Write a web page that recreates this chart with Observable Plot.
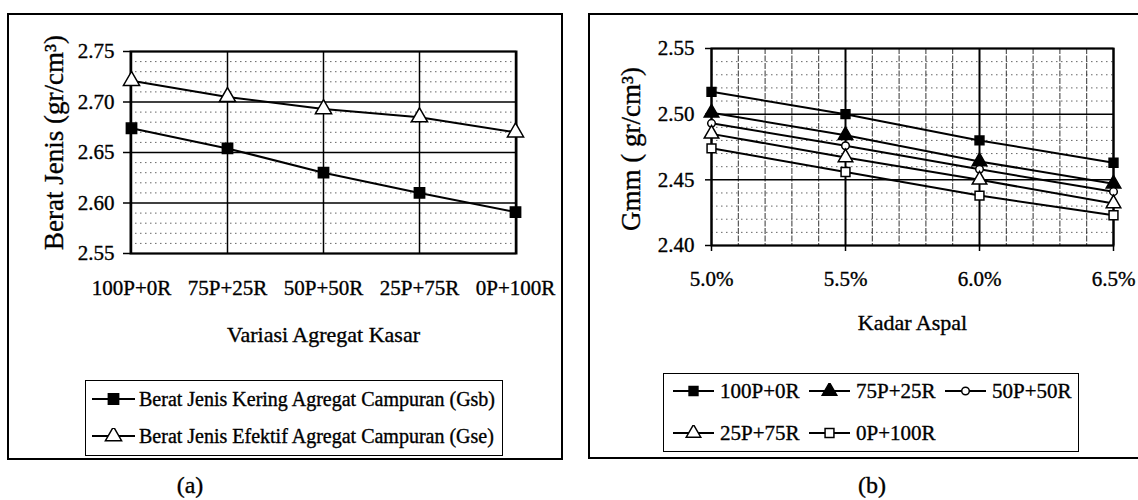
<!DOCTYPE html>
<html><head><meta charset="utf-8">
<script src="https://cdn.jsdelivr.net/npm/d3@7"></script>
<script src="https://cdn.jsdelivr.net/npm/@observablehq/plot@0.6"></script>
<style>
body{margin:0;background:#fff;}
#root{position:relative;width:1138px;height:500px;overflow:hidden;background:#fff;font-family:"Liberation Serif","Times New Roman",serif;color:#000;}
#root svg text{stroke:#000;stroke-width:0.35px;}
.frame{position:absolute;border:2px solid #000;box-sizing:border-box;}
.plotbox{position:absolute;}
.legend{position:absolute;border:1.5px solid #000;box-sizing:border-box;background:#fff;}
.item{position:absolute;display:flex;align-items:center;white-space:nowrap;font-size:21px;line-height:1;-webkit-text-stroke:0.35px #000;}
.item svg{flex:none;}
.cap{position:absolute;font-size:24px;transform:translate(-50%,-50%);-webkit-text-stroke:0.35px #000;}
</style></head><body><div id="root"></div>
<script>
// ---------- data: panel (a) ----------
const variasi = ["100P+0R", "75P+25R", "50P+50R", "25P+75R", "0P+100R"];
const gsb = [2.674, 2.654, 2.630, 2.610, 2.591];
const gse = [2.721, 2.705, 2.693, 2.685, 2.670];
const seriesA = ["Berat Jenis Kering Agregat Campuran (Gsb)", "Berat Jenis Efektif Agregat Campuran (Gse)"];
const yTicksA = [2.55, 2.60, 2.65, 2.70, 2.75];

// ---------- data: panel (b) ----------
const kadarAspal = [5.0, 5.5, 6.0, 6.5];
const seriesB = ["100P+0R", "75P+25R", "50P+50R", "25P+75R", "0P+100R"];
const gmm100P0R = [2.517, 2.500, 2.480, 2.463];
const gmm75P25R = [2.501, 2.484, 2.464, 2.447];
const gmm50P50R = [2.493, 2.476, 2.458, 2.441];
const gmm25P75R = [2.485, 2.467, 2.450, 2.432];
const gmm0P100R = [2.474, 2.456, 2.438, 2.423];
const yTicksB = [2.40, 2.45, 2.50, 2.55];

// ---------- styles ----------
const symA = [{symbol: "square", fill: "black"}, {symbol: "triangle", fill: "white"}];
const symB = [
  {symbol: "square", fill: "black"},
  {symbol: "triangle", fill: "black"},
  {symbol: "circle", fill: "white"},
  {symbol: "triangle", fill: "white"},
  {symbol: "square", fill: "white"}
];
const FONT = "'Liberation Serif', 'Times New Roman', serif";
const root = document.getElementById("root");

function el(tag, cls, css, html) {
  const e = document.createElement(tag);
  if (cls) e.className = cls;
  if (css) Object.assign(e.style, css);
  if (html != null) e.innerHTML = html;
  return e;
}
function symR(s, big) {
  if (s === "circle") return big ? 4.2 : 3.8;
  if (s === "triangle") return big ? 6 : 5.4;
  return big ? 5.8 : 5.0;
}

// frames
root.appendChild(el("div", "frame", {left: "7px", top: "13px", width: "556px", height: "447px"}));
root.appendChild(el("div", "frame", {left: "588px", top: "13px", width: "560px", height: "446px"}));

// ---------- panel (a) ----------
const rowsA = [];
variasi.forEach((v, i) => {
  rowsA.push({v, val: gsb[i], s: seriesA[0]});
  rowsA.push({v, val: gse[i], s: seriesA[1]});
});
const minorA = d3.range(0, 21).map(i => 2.55 + i * 0.01).filter(t => Math.round(t * 100) % 5 !== 0);

const plotA = Plot.plot({
  width: 570, height: 330,
  marginLeft: 130, marginRight: 54, marginTop: 51, marginBottom: 77,
  style: {fontFamily: FONT, fontSize: "21px", color: "#000", background: "transparent", overflow: "visible"},
  x: {type: "point", domain: variasi, padding: 0, axis: null},
  y: {domain: [2.55, 2.75], axis: null},
  marks: [
    Plot.ruleY(minorA, {stroke: "#666", strokeWidth: 1, strokeDasharray: "1.5,3.5"}),
    Plot.gridY({ticks: yTicksA, stroke: "#000", strokeOpacity: 1, strokeWidth: 1.5}),
    Plot.gridX({stroke: "#000", strokeOpacity: 1, strokeWidth: 1.5}),
    Plot.frame({stroke: "#000", strokeWidth: 2}),
    Plot.axisY({ticks: yTicksA, tickFormat: d => d.toFixed(2), tickSize: 7, tickPadding: 9, strokeWidth: 1.5, fontSize: 21, label: null}),
    Plot.axisX({tickSize: 0, tickPadding: 27, fontSize: 21, label: null}),
    Plot.text(["Berat Jenis (gr/cm³)"], {frameAnchor: "left", textAnchor: "middle", rotate: -90, dx: -76, dy: -10, fontSize: 27}),
    Plot.text(["Variasi Agregat Kasar"], {frameAnchor: "bottom", dy: 88, fontSize: 22}),
    ...seriesA.map(s => Plot.line(rowsA.filter(d => d.s === s), {x: "v", y: "val", stroke: "#000", strokeWidth: 2})),
    ...seriesA.map((s, i) => Plot.dot(rowsA.filter(d => d.s === s), {
      x: "v", y: "val", symbol: symA[i].symbol, r: symR(symA[i].symbol, true),
      fill: symA[i].fill, stroke: "#000", strokeWidth: 1.5
    }))
  ]
});
const boxA = el("div", "plotbox", {left: "0px", top: "0px"});
boxA.appendChild(plotA);
root.appendChild(boxA);

// ---------- panel (b) ----------
const gmmB = [gmm100P0R, gmm75P25R, gmm50P50R, gmm25P75R, gmm0P100R];
const rowsB = [];
seriesB.forEach((s, i) => kadarAspal.forEach((k, j) => rowsB.push({s, k, v: gmmB[i][j]})));
const minorBy = d3.range(0, 16).map(i => 2.40 + i * 0.01).filter(t => Math.round(t * 100) % 5 !== 0);
const minorBx = d3.range(0, 16).map(i => 5.0 + i * 0.1).filter(t => Math.round(t * 10) % 5 !== 0);

const plotB = Plot.plot({
  width: 568, height: 330,
  marginLeft: 141, marginRight: 25, marginTop: 48, marginBottom: 85,
  style: {fontFamily: FONT, fontSize: "21px", color: "#000", background: "transparent", overflow: "visible"},
  x: {domain: [5.0, 6.5], axis: null},
  y: {domain: [2.40, 2.55], axis: null},
  marks: [
    Plot.ruleY(minorBy, {stroke: "#666", strokeWidth: 1, strokeDasharray: "1.5,3.5"}),
    Plot.ruleX(minorBx, {stroke: "#333", strokeWidth: 1, strokeDasharray: "6,1.5"}),
    Plot.gridY({ticks: yTicksB, stroke: "#000", strokeOpacity: 1, strokeWidth: 1.5}),
    Plot.gridX({ticks: kadarAspal, stroke: "#000", strokeOpacity: 1, strokeWidth: 2}),
    Plot.frame({stroke: "#000", strokeWidth: 2}),
    Plot.axisY({ticks: yTicksB, tickFormat: d => d.toFixed(2), tickSize: 6, tickPadding: 11, strokeWidth: 1.5, fontSize: 21, label: null}),
    Plot.axisX({ticks: kadarAspal, tickFormat: d => d.toFixed(1) + "%", tickSize: 6, tickPadding: 20, strokeWidth: 1.5, fontSize: 21, label: null}),
    Plot.text(["Gmm ( gr/cm³)"], {frameAnchor: "left", textAnchor: "middle", rotate: -90, dx: -80, dy: 2, fontSize: 27}),
    Plot.text(["Kadar Aspal"], {frameAnchor: "bottom", dy: 84, fontSize: 22}),
    ...seriesB.map(s => Plot.line(rowsB.filter(d => d.s === s), {x: "k", y: "v", stroke: "#000", strokeWidth: 2})),
    ...seriesB.map((s, i) => Plot.dot(rowsB.filter(d => d.s === s), {
      x: "k", y: "v", symbol: symB[i].symbol, r: symR(symB[i].symbol, false),
      fill: symB[i].fill, stroke: "#000", strokeWidth: 1.5
    }))
  ]
});
const boxB = el("div", "plotbox", {left: "570px", top: "0px"});
boxB.appendChild(plotB);
root.appendChild(boxB);

// ---------- legends ----------
function keySvg(sym, big, w) {
  const r = symR(sym.symbol, big);
  const type = {square: d3.symbolSquare, triangle: d3.symbolTriangle, circle: d3.symbolCircle}[sym.symbol];
  const path = d3.symbol(type, r * r * Math.PI)();
  return `<svg width="${w}" height="16" viewBox="0 0 ${w} 16"><line x1="1" x2="${w - 1}" y1="8" y2="8" stroke="#000" stroke-width="1.8"/>` +
    `<path d="${path}" transform="translate(${w / 2},8)" fill="${sym.fill}" stroke="#000" stroke-width="1.5"/></svg>`;
}
const legA = el("div", "legend", {left: "85px", top: "380px", width: "418px", height: "76px"});
seriesA.forEach((s, i) => {
  const it = el("div", "item", {left: "5px", top: (i === 0 ? 7 : 44) + "px", height: "22px", fontSize: "20px"});
  it.innerHTML = keySvg(symA[i], true, 45) + `<span style="margin-left:3px">${s}</span>`;
  legA.appendChild(it);
});
root.appendChild(legA);

const legB = el("div", "legend", {left: "663px", top: "373px", width: "416px", height: "79px"});
seriesB.forEach((s, i) => {
  const col = i % 3, row = Math.floor(i / 3);
  const it = el("div", "item", {left: (8 + col * 136) + "px", top: (row === 0 ? 6 : 48) + "px", height: "22px", fontSize: "21px"});
  it.innerHTML = keySvg(symB[i], false, 43) + `<span style="margin-left:5px">${s}</span>`;
  legB.appendChild(it);
});
root.appendChild(legB);

// captions
root.appendChild(el("div", "cap", {left: "190px", top: "485px"}, "(a)"));
root.appendChild(el("div", "cap", {left: "872px", top: "485px"}, "(b)"));
</script>
</body></html>
